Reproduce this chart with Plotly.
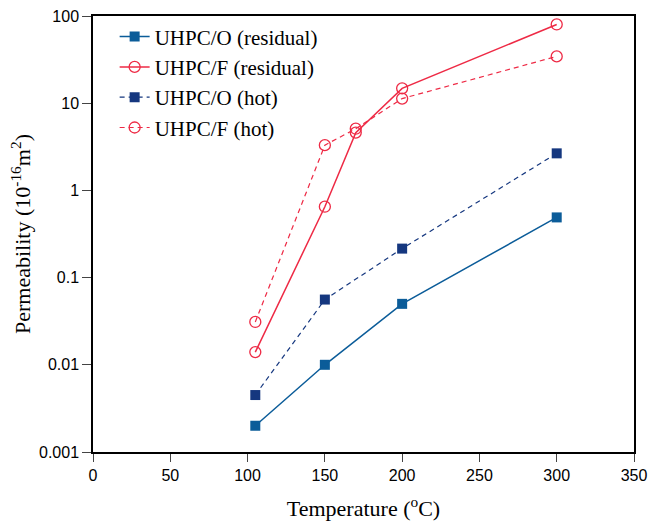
import plotly.graph_objects as go

temp = [105, 150, 200, 300]
temp_f = [105, 150, 170, 200, 300]
o_residual = [0.002, 0.01, 0.05, 0.49]
f_residual = [0.014, 0.65, 4.6, 14.8, 80]
o_hot = [0.0045, 0.056, 0.215, 2.66]
f_hot = [0.031, 3.3, 5.1, 11.3, 34.4]

y_tickvals = [0.001, 0.01, 0.1, 1, 10, 100]
y_ticktext = ["0.001", "0.01", "0.1", "1", "10", "100"]
x_tickvals = [0, 50, 100, 150, 200, 250, 300, 350]

BLUE = "#0B5C99"
NAVY = "#15377F"
RED = "#EE2A45"

fig = go.Figure()
fig.add_trace(go.Scatter(x=temp, y=o_residual, name="UHPC/O (residual)", mode="lines+markers",
                         line=dict(color=BLUE, width=1.5),
                         marker=dict(symbol="square", size=10, color=BLUE, line=dict(width=0))))
fig.add_trace(go.Scatter(x=temp_f, y=f_residual, name="UHPC/F (residual)", mode="lines+markers",
                         line=dict(color=RED, width=1.5),
                         marker=dict(symbol="circle-open", size=11, color=RED, line=dict(width=1.3))))
fig.add_trace(go.Scatter(x=temp, y=o_hot, name="UHPC/O (hot)", mode="lines+markers",
                         line=dict(color=NAVY, width=1.2, dash="5px,4px"),
                         marker=dict(symbol="square", size=10, color=NAVY, line=dict(width=0))))
fig.add_trace(go.Scatter(x=temp_f, y=f_hot, name="UHPC/F (hot)", mode="lines+markers",
                         line=dict(color=RED, width=1.2, dash="5px,4px"),
                         marker=dict(symbol="circle-open", size=11, color=RED, line=dict(width=1.3))))

fig.update_layout(
    width=651, height=529,
    margin=dict(l=93, r=17, t=16, b=77),
    paper_bgcolor="white", plot_bgcolor="white",
    font=dict(family="Liberation Sans, Arial", size=16, color="black"),
    showlegend=True,
    legend=dict(x=0.04, y=0.999, xanchor="left", yanchor="top",
                font=dict(family="Liberation Serif, Times New Roman", size=21, color="black"),
                bgcolor="rgba(0,0,0,0)", borderwidth=0, tracegroupgap=0),
    xaxis=dict(range=[0, 350], tickvals=x_tickvals, ticks="outside", ticklen=8,
               showline=True, linecolor="black", linewidth=1.5, mirror=True,
               showgrid=False, zeroline=False, automargin=False,
               ticklabeloverflow="allow",
               tickfont=dict(family="Liberation Sans, Arial", size=16),
               title=dict(text="Temperature (<sup>o</sup>C)",
                          font=dict(family="Liberation Serif, Times New Roman", size=22),
                          standoff=18)),
    yaxis=dict(type="log", range=[-3, 2], tickvals=y_tickvals, ticktext=y_ticktext,
               ticks="outside", ticklen=9,
               showline=True, linecolor="black", linewidth=1.5, mirror=True,
               showgrid=False, zeroline=False, automargin=False,
               ticklabeloverflow="allow",
               tickfont=dict(family="Liberation Sans, Arial", size=16),
               title=dict(text="Permeability (10<sup>-16</sup>m<sup>2</sup>)",
                          font=dict(family="Liberation Serif, Times New Roman", size=22),
                          standoff=2)),
)

fig.write_html(
    "out.html",
    config={"displayModeBar": False},
    post_script="document.body.style.margin='0';document.documentElement.style.overflow='hidden';",
)
